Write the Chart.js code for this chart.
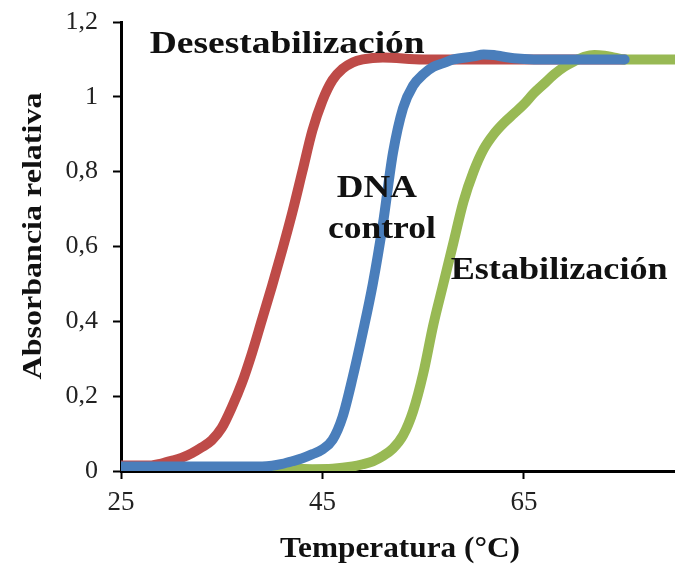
<!DOCTYPE html>
<html lang="es">
<head>
<meta charset="utf-8">
<title>Curvas de desnaturalización del DNA</title>
<script src="https://cdn.jsdelivr.net/npm/chart.js@4.4.1/dist/chart.umd.min.js"></script>
<style>
  html, body { margin: 0; padding: 0; background: #fff; }
  #wrap { width: 675px; height: 565px; }
</style>
</head>
<body>
<div id="wrap"><canvas id="meltChart"></canvas></div>
<script>
// Series: temperatura (°C) y absorbancia relativa
const seriesNames = ['Desestabilización', 'DNA control', 'Estabilización'];

const tempDesest = [25, 28, 29, 30, 31, 32, 33, 34, 35, 36, 37, 38, 39, 40, 41, 42, 43, 44, 45, 46, 47, 48, 49, 51, 55, 60, 65, 70, 75];
const absDesest  = [0.015, 0.015, 0.02, 0.027, 0.035, 0.047, 0.063, 0.082, 0.115, 0.17, 0.235, 0.315, 0.405, 0.495, 0.59, 0.69, 0.8, 0.91, 0.99, 1.045, 1.075, 1.092, 1.1, 1.105, 1.1, 1.1, 1.1, 1.1, 1.1];

const tempControl = [25, 30, 35, 39, 40, 41, 42, 43, 44, 45, 46, 47, 48, 49, 50, 51, 52, 53, 54, 55, 56, 57, 58, 60, 61, 62, 63, 64, 66, 70, 75];
const absControl  = [0.012, 0.012, 0.012, 0.012, 0.014, 0.019, 0.026, 0.034, 0.045, 0.058, 0.083, 0.145, 0.25, 0.37, 0.5, 0.66, 0.85, 0.97, 1.03, 1.06, 1.08, 1.09, 1.1, 1.108, 1.113, 1.112, 1.107, 1.103, 1.1, 1.1, 1.1];

const tempEstab = [25, 40, 44, 46, 48, 49, 50, 51, 52, 53, 54, 55, 56, 57, 58, 59, 60, 61, 62, 63, 64, 65, 66, 67, 68, 69, 70, 71, 72, 73, 74, 75, 80];
const absEstab  = [0.01, 0.01, 0.005, 0.006, 0.012, 0.018, 0.026, 0.04, 0.06, 0.095, 0.16, 0.26, 0.39, 0.5, 0.61, 0.72, 0.8, 0.86, 0.9, 0.93, 0.955, 0.98, 1.01, 1.035, 1.06, 1.08, 1.095, 1.107, 1.112, 1.11, 1.105, 1.1, 1.1];

const xTicks = [25, 45, 65];
const yTicks = [0, 0.2, 0.4, 0.6, 0.8, 1, 1.2];
const yTickLabels = ['0', '0,2', '0,4', '0,6', '0,8', '1', '1,2'];

const toPoints = (xs, ys) => xs.map((x, i) => ({ x: x, y: ys[i] }));

const serif = "'Liberation Serif', 'DejaVu Serif', serif";

// Rótulos de las curvas y de los ejes (texto real, ajustado al ancho del original)
const rotulos = {
    id: 'rotulos',
    afterDraw(chart) {
        const ctx = chart.ctx;
        const xs = chart.scales.x;
        const ys = chart.scales.y;

        const texto = (str, x, y, ancho, size, rot) => {
            ctx.save();
            ctx.font = 'bold ' + size + 'px ' + serif;
            const w = ctx.measureText(str).width;
            ctx.translate(x, y);
            if (rot) ctx.rotate(rot);
            ctx.scale(ancho / w, 1);
            ctx.fillStyle = '#111';
            ctx.textAlign = 'center';
            ctx.textBaseline = 'alphabetic';
            ctx.fillText(str, 0, 0);
            ctx.restore();
        };

        // nombres de las series, anclados en coordenadas de datos
        texto(seriesNames[0], xs.getPixelForValue(41.5), ys.getPixelForValue(1.118), 275, 32);
        texto('DNA', xs.getPixelForValue(50.4), ys.getPixelForValue(0.733), 80, 32);
        texto('control', xs.getPixelForValue(50.9), ys.getPixelForValue(0.622), 108, 32);
        texto(seriesNames[2], xs.getPixelForValue(68.5), ys.getPixelForValue(0.514), 217, 32);

        // títulos de los ejes
        texto('Temperatura (°C)', 400, 557, 240, 29);
        texto('Absorbancia relativa', 41, 236, 287, 28, -Math.PI / 2);
    }
};

let meltChartInstance = null;

const ctx = document.getElementById('meltChart').getContext('2d');
meltChartInstance = new Chart(ctx, {
    type: 'line',
    data: {
        datasets: [
            {
                label: seriesNames[1],
                data: toPoints(tempControl, absControl),
                borderColor: '#4a7ebb',
                order: 0
            },
            {
                label: seriesNames[2],
                data: toPoints(tempEstab, absEstab),
                borderColor: '#98b954',
                order: 1
            },
            {
                label: seriesNames[0],
                data: toPoints(tempDesest, absDesest),
                borderColor: '#be4b48',
                order: 2
            }
        ]
    },
    options: {
        responsive: true,
        maintainAspectRatio: false,
        animation: false,
        events: [],
        layout: { padding: { left: 0, top: 22, right: 0, bottom: 0 } },
        elements: {
            line: {
                borderWidth: 10,
                tension: 0.4,
                cubicInterpolationMode: 'monotone',
                borderCapStyle: 'round',
                borderJoinStyle: 'round',
                fill: false
            },
            point: { radius: 0, hoverRadius: 0 }
        },
        plugins: {
            legend: { display: false },
            tooltip: { enabled: false }
        },
        scales: {
            x: {
                type: 'linear',
                min: 25,
                max: 80,
                afterBuildTicks: (scale) => { scale.ticks = xTicks.map(v => ({ value: v })); },
                afterFit: (scale) => { scale.height = 94; },
                ticks: {
                    autoSkip: false,
                    maxRotation: 0,
                    padding: 8,
                    color: '#222',
                    font: { family: serif, size: 27 }
                },
                grid: {
                    drawOnChartArea: false,
                    drawTicks: true,
                    tickLength: 8,
                    tickWidth: 2,
                    tickColor: '#000'
                },
                border: { display: true, color: '#000', width: 3 }
            },
            y: {
                type: 'linear',
                min: 0,
                max: 1.2,
                afterBuildTicks: (scale) => { scale.ticks = yTicks.map(v => ({ value: v })); },
                afterFit: (scale) => {
                    scale.width = 121;
                    scale.paddingTop = 0;
                    scale.paddingBottom = 0;
                },
                ticks: {
                    autoSkip: false,
                    padding: 15,
                    color: '#222',
                    font: { family: serif, size: 26 },
                    callback: (value, index) => yTickLabels[index]
                },
                grid: {
                    drawOnChartArea: false,
                    drawTicks: true,
                    tickLength: 8,
                    tickWidth: 2,
                    tickColor: '#000'
                },
                border: { display: true, color: '#000', width: 3 }
            }
        }
    },
    plugins: [rotulos]
});
</script>
</body>
</html>
